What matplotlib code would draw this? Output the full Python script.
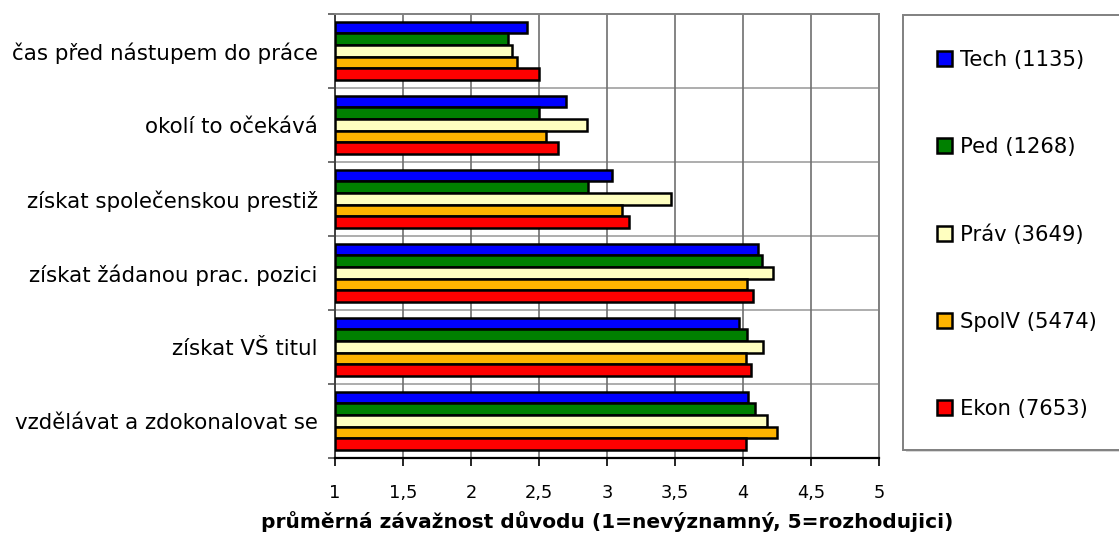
import matplotlib.pyplot as plt
from matplotlib.patches import Patch, Rectangle
from matplotlib.ticker import FuncFormatter, MultipleLocator

plt.rcParams['font.family'] = ['DejaVu Sans']

reasons = ['čas před nástupem do práce', 'okolí to očekává', 'získat společenskou prestiž',
           'získat žádanou prac. pozici', 'získat VŠ titul', 'vzdělávat a zdokonalovat se']
groups = ['Tech (1135)', 'Ped (1268)', 'Práv (3649)', 'SpolV (5474)', 'Ekon (7653)']
colors = ['#0000ff', '#008000', '#ffffc0', '#ffb400', '#ff0000']

tech = [2.41, 2.70, 3.04, 4.11, 3.97, 4.04]
ped = [2.27, 2.50, 2.86, 4.14, 4.03, 4.09]
prav = [2.30, 2.85, 3.47, 4.22, 4.15, 4.18]
spolv = [2.34, 2.55, 3.11, 4.03, 4.02, 4.25]
ekon = [2.50, 2.64, 3.16, 4.07, 4.06, 4.02]
series = [tech, ped, prav, spolv, ekon]

fig = plt.figure(figsize=(11.19, 5.38), dpi=100)
ax = fig.add_axes([0.2994, 0.1487, 0.4861, 0.8253])

h = 0.158
for j, (vals, col) in enumerate(zip(series, colors)):
    ys = [i + 0.497 + (j - 2) * h for i in range(len(reasons))]
    ax.barh(ys, [v - 1 for v in vals], left=1, height=h, color=col,
            edgecolor='black', linewidth=1.8, zorder=3)

ax.set_xlim(1, 5)
ax.set_ylim(len(reasons), 0)
ax.xaxis.set_major_locator(MultipleLocator(0.5))
ax.xaxis.set_major_formatter(FuncFormatter(lambda v, p: f'{v:g}'.replace('.', ',')))
ax.grid(axis='x', color='#707070', linewidth=1.2, zorder=0)

# category separators and labels
ax.set_yticks(range(len(reasons) + 1))
ax.set_yticklabels([])
ax.set_yticks([i + 0.5 for i in range(len(reasons))], minor=True)
ax.set_yticklabels(reasons, minor=True, fontsize=15.4)
ax.tick_params(axis='y', which='minor', length=0, pad=12.5)
ax.tick_params(axis='y', which='major', length=5, color='#555555', width=1.2)
for i in range(1, len(reasons)):
    ax.axhline(i, color='#a0a0a0', linewidth=1.2, zorder=0)

ax.tick_params(axis='x', length=6, width=1.2, pad=13, labelsize=12.8)
ax.set_xlabel('průměrná závažnost důvodu (1=nevýznamný, 5=rozhodujici)',
              fontsize=14.5, fontweight='bold', labelpad=6.5)

for side in ['top', 'right']:
    ax.spines[side].set_color('#808080')
    ax.spines[side].set_linewidth(1.4)
ax.spines['left'].set_color('#404040')
ax.spines['left'].set_linewidth(1.4)
ax.spines['bottom'].set_color('black')
ax.spines['bottom'].set_linewidth(1.6)

# legend box
fig.patches.append(Rectangle((906 / 1119, 86 / 538), 0.2, 3 / 538, transform=fig.transFigure,
                             facecolor='#d8d8d8', edgecolor='none'))
fig.patches.append(Rectangle((903 / 1119, 88 / 538), 0.2, 435 / 538, transform=fig.transFigure,
                             facecolor='white', edgecolor='#808080', linewidth=1.4))
handles = [Patch(facecolor=c, edgecolor='black', linewidth=1.8) for c in colors]
fig.legend(handles, groups, loc='upper left', bbox_to_anchor=(937 / 1119, 1 - 50 / 538),
           frameon=False, fontsize=15.2, labelspacing=3.18, handlelength=0.72,
           handleheight=0.72, handletextpad=0.35, borderaxespad=0, borderpad=0)

fig.savefig('out.png', dpi=100)
